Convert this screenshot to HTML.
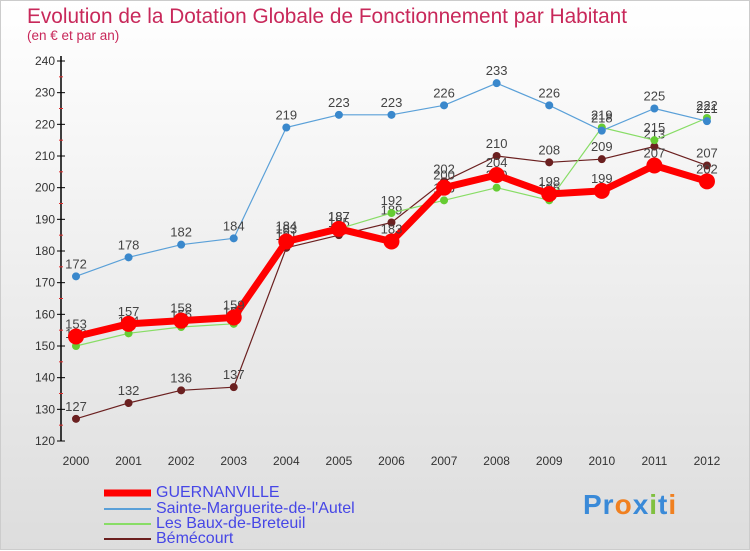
<!DOCTYPE html>
<html><head><meta charset="utf-8"><style>
body{margin:0;width:750px;height:550px;overflow:hidden;font-family:"Liberation Sans",sans-serif}
#wrap{position:relative;width:748px;height:548px;border:1px solid #ccc;background:linear-gradient(#fff,#ddd)}
.t{position:absolute;color:#c8285a}
.lg{position:absolute;left:155px;font-size:16px;color:#4646e6;line-height:16px}
</style></head><body>
<div id="wrap">
<div class="t" style="left:26px;top:4px;font-size:20.8px">Evolution de la Dotation Globale de Fonctionnement par Habitant</div>
<div class="t" style="left:26px;top:27px;font-size:13.5px">(en € et par an)</div>
<svg id="c" width="750" height="550" style="position:absolute;left:0;top:0"></svg>
<div class="lg" style="top:484px">GUERNANVILLE</div>
<div class="lg" style="top:500px">Sainte-Marguerite-de-l'Autel</div>
<div class="lg" style="top:515px">Les Baux-de-Breteuil</div>
<div class="lg" style="top:530px">Bémécourt</div>
<div style="position:absolute;left:582px;top:488px;font-size:28px;font-weight:bold;letter-spacing:1px"><span style="color:#3a8ad8">Pr</span><span style="color:#f08020">o</span><span style="color:#3a8ad8">x</span><span style="color:#80c040">i</span><span style="color:#3a8ad8">t</span><span style="color:#f08020">i</span></div>
</div>
<script>
const years=[2000,2001,2002,2003,2004,2005,2006,2007,2008,2009,2010,2011,2012];
const guernanville=[153,157,158,159,183,187,183,200,204,198,199,207,202];
const sainteMarguerite=[172,178,182,184,219,223,223,226,233,226,218,225,221];
const baux=[150,154,156,157,184,187,192,196,200,196,219,215,222];
const bemecourt=[127,132,136,137,181,185,189,202,210,208,209,213,207];
const yTicks=[120,130,140,150,160,170,180,190,200,210,220,230,240];
const svg=document.getElementById('c');const NS='http://www.w3.org/2000/svg';
const x=i=>75+i*52.58;const y=v=>440-(v-120)*3.1667;
function mk(t,a,p){const e=document.createElementNS(NS,t);for(const k in a)e.setAttribute(k,a[k]);(p||svg).appendChild(e);return e;}
let ax=mk('line',{x1:60,y1:55,x2:60,y2:440,stroke:'#000','stroke-width':1.5});


yTicks.forEach(v=>{
 const l=mk('line',{x1:56,y1:y(v),x2:64,y2:y(v),stroke:'#000'});
 
 
 if(v<240){const m=mk('line',{x1:58,y1:y(v+5),x2:62,y2:y(v+5),stroke:'#e03030'});
 
 }
 const t=mk('text',{x:54,y:y(v)+4,'text-anchor':'end','font-size':12,fill:'#333'});t.textContent=v;
 
 
});
years.forEach((yr,i)=>{const t=mk('text',{x:x(i),y:464,'text-anchor':'middle','font-size':12,fill:'#333'});t.textContent=yr;
 
 });
function series(data,color,w,r,name,lc){
 const g=mk('g',{});
 
 
 const p=mk('polyline',{points:data.map((v,i)=>x(i)+','+y(v)).join(' '),fill:'none',stroke:color,'stroke-width':w,'stroke-linejoin':'round'},g);
 
 
 data.forEach((v,i)=>{const c=mk('circle',{cx:x(i),cy:y(v),r:r,fill:lc||color},g);
  
  
  const t=mk('text',{x:x(i),y:y(v)-8,'text-anchor':'middle','font-size':13,fill:'#444'},g);t.textContent=v;
  
  });
}
series(bemecourt,'#6b2020',1.2,4,'bemecourt');
series(baux,'#88dd66',1.2,4,'baux','#66cc33');
series(sainteMarguerite,'#5aa0d8',1.2,4,'sainte-marguerite','#3a88cc');
series(guernanville,'#ff0000',7,8,'guernanville');
[['#ff0000',7,492],['#5aa0d8',2,508],['#88dd66',2,523],['#6b2020',2,538]].forEach(([c,w,yy])=>{
 const l=mk('line',{x1:103,y1:yy,x2:150,y2:yy,stroke:c,'stroke-width':w});
 
 });
</script>
</body></html>
